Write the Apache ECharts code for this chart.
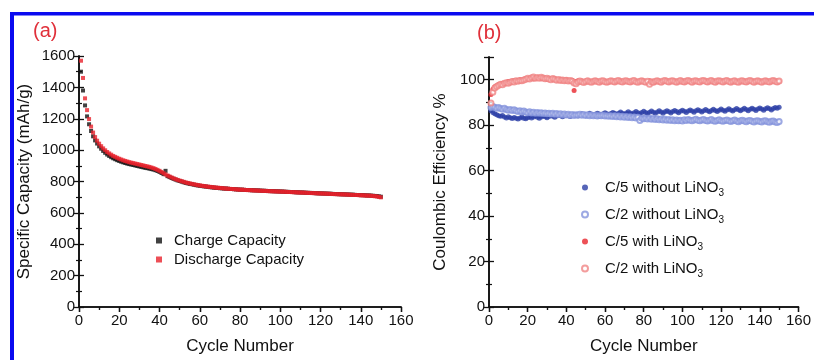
<!DOCTYPE html>
<html>
<head>
<meta charset="utf-8">
<script src="https://cdn.jsdelivr.net/npm/echarts@6/dist/echarts.min.js"></script>
<style>html,body{margin:0;padding:0;background:#fff}#c{width:814px;height:360px}</style>
</head>
<body>
<div id="c"></div>
<script>
// ---------- Panel (a): specific capacity vs cycle ----------
const chargeCapacity = [
1500,1380,1285,1215,1165,1122,1088,1062,1042,1024,
1009,995,983,972,963,955,948,942,936,931,
926,922,918,914,911,908,905,902,899,896,
893,890,887,885,882,879,876,872,867,861,
854,847,868,834,828,822,817,812,807,803,
799,795,791,788,785,783,780,777,775,773,
771,769,768,766,764,763,761,760,759,757,
757,755,755,754,752,752,751,750,749,748,
748,747,746,746,745,744,744,743,743,742,
741,741,740,739,739,738,738,737,737,736,
736,735,734,734,733,733,732,731,731,730,
730,729,728,728,727,727,726,725,725,724,
724,723,723,722,722,721,720,720,719,719,
718,718,717,717,716,716,715,714,714,713,
713,712,711,711,710,709,708,707,705,703];
const dischargeCapacity = [
1570,1460,1330,1255,1198,1150,1112,1083,1060,1041,
1025,1011,999,988,979,971,963,957,951,945,
940,935,931,927,923,920,917,914,911,908,
905,902,899,896,893,889,885,880,874,868,
861,853,845,838,832,826,820,815,810,806,
802,798,794,791,788,785,782,780,777,775,
773,771,769,767,766,764,763,761,760,759,
758,756,755,754,753,752,751,750,749,748,
748,747,746,745,745,744,743,743,742,741,
741,740,740,739,738,738,737,737,736,736,
735,735,734,733,733,732,732,731,730,730,
729,729,728,727,727,726,726,725,724,724,
723,723,722,722,721,720,720,719,719,718,
718,717,717,716,715,715,714,714,713,712,
712,711,710,710,709,708,706,705,702,699];

// ---------- Panel (b): coulombic efficiency vs cycle ----------
const c5Without = [
86.3,85.6,85.0,84.6,84.2,83.9,84.3,83.6,83.2,83.7,
83.3,82.9,83.4,83.0,82.7,83.2,83.6,83.1,82.8,83.3,
83.7,83.2,83.6,84.0,83.5,83.1,83.6,84.1,83.7,83.3,
83.8,84.3,83.9,83.5,84.0,84.5,84.1,83.7,84.2,84.6,
84.2,83.8,84.3,84.8,84.4,84.0,84.5,85.0,84.6,84.2,
84.7,85.2,84.8,84.3,84.8,85.3,84.9,84.4,85.0,85.5,
85.0,84.5,85.1,85.6,85.2,84.7,85.3,85.8,85.3,84.8,
85.4,85.9,85.4,84.9,85.5,86.0,85.5,85.0,85.6,86.1,
85.6,85.1,85.7,86.2,85.7,85.2,85.8,86.3,85.8,85.3,
85.9,86.4,85.9,85.4,86.0,86.5,86.0,85.5,86.1,86.6,
86.1,85.6,86.2,86.7,86.2,85.7,86.3,86.8,86.3,85.8,
86.4,86.9,86.4,85.9,86.5,87.0,86.5,86.0,86.6,87.1,
86.6,86.1,86.7,87.2,86.7,86.2,86.8,87.3,86.8,86.3,
86.9,87.4,86.9,86.4,87.0,87.5,87.0,86.5,87.1,87.6,
87.1,86.6,87.2,87.7,87.2,86.7,87.3,87.8,87.4,87.9];
const c2Without = [
87.8,88.2,87.9,87.5,87.8,87.3,87.0,87.4,86.9,86.6,
86.9,86.5,86.8,86.3,86.0,86.4,85.9,86.2,85.8,85.5,
85.9,85.4,85.7,85.3,85.6,85.2,85.5,85.1,85.4,85.0,
85.3,84.9,85.2,84.8,85.1,84.7,85.0,84.6,84.9,84.5,
84.8,84.4,84.7,84.3,84.6,84.5,84.8,84.4,84.7,84.3,
84.6,84.2,84.5,84.1,84.4,84.0,84.3,84.1,84.4,84.0,
84.2,83.9,84.2,83.8,84.1,83.7,84.0,83.6,83.9,83.5,
83.8,83.4,83.7,83.3,83.6,83.2,83.5,82.1,83.0,82.8,
83.1,82.7,83.0,82.6,82.9,82.5,82.8,82.4,82.7,82.3,
82.6,82.2,82.5,82.1,82.4,82.0,82.3,81.9,82.2,81.8,
82.4,82.1,82.5,82.2,81.9,82.3,82.6,82.2,81.9,82.3,
82.5,82.1,81.8,82.2,82.5,82.0,81.7,82.1,82.4,82.0,
81.7,82.1,82.3,81.9,81.6,82.0,82.3,81.8,81.5,81.9,
82.2,81.8,81.5,81.9,82.1,81.7,81.4,81.8,82.0,81.6,
81.4,81.8,81.9,81.5,81.3,81.7,81.8,81.4,81.2,81.6];
const c5With = [
93.5,95.8,96.9,97.4,97.9,98.1,98.5,98.3,98.9,99.2,
99.0,99.4,99.6,99.3,99.7,100.0,99.8,100.2,100.4,100.1,
100.5,100.8,100.3,100.6,101.0,100.7,100.4,100.8,100.5,100.2,
100.6,100.3,100.0,100.4,100.1,99.8,100.2,99.9,99.6,100.0,
99.7,99.4,99.8,95.3,99.2,99.5,99.1,99.4,99.0,99.3,
99.6,99.2,98.9,99.3,99.6,99.1,98.8,99.2,99.5,99.0,
98.8,99.3,99.6,99.2,98.9,99.4,99.7,99.2,98.9,99.3,
99.6,99.1,98.8,99.3,99.6,99.2,98.9,99.4,99.7,99.1,
98.8,99.2,99.5,99.0,98.7,99.2,99.6,99.1,98.8,99.3,
99.6,99.2,98.9,99.4,99.7,99.2,98.8,99.3,99.6,99.1,
98.9,99.4,99.7,99.2,98.8,99.3,99.6,99.1,98.9,99.4,
99.7,99.2,98.9,99.3,99.6,99.1,98.8,99.3,99.6,99.2,
98.9,99.4,99.7,99.2,98.8,99.3,99.6,99.0,98.8,99.3,
99.6,99.1,98.9,99.4,99.7,99.2,98.9,99.3,99.6,99.1,
98.8,99.3,99.6,99.1,98.9,99.4,99.7,99.2,98.9,99.3];
const c2With = [
89.8,94.5,96.4,97.0,97.6,98.0,97.8,98.4,98.7,98.5,
98.9,99.2,99.0,99.5,99.3,99.7,99.5,99.9,100.2,100.6,
100.3,100.9,101.2,100.7,101.0,100.6,101.1,100.8,100.4,100.7,
100.3,100.0,100.5,100.2,99.8,100.1,99.7,99.9,99.5,99.8,
99.4,99.7,99.3,98.6,98.2,99.0,99.4,99.1,98.8,99.2,
99.5,99.1,98.9,99.3,99.6,99.2,98.9,99.4,99.6,99.1,
98.9,99.2,99.5,99.3,99.0,99.4,99.7,99.2,99.0,99.4,
99.6,99.2,99.0,99.4,99.7,99.1,98.9,99.3,99.6,99.2,
98.9,99.3,98.0,99.1,98.9,99.3,99.6,99.2,98.9,99.4,
99.7,99.3,99.0,99.4,99.6,99.2,98.9,99.3,99.7,99.2,
99.0,99.4,99.7,99.3,98.9,99.4,99.6,99.2,99.0,99.5,
99.7,99.3,99.0,99.4,99.7,99.2,98.9,99.4,99.6,99.3,
99.0,99.4,99.7,99.2,98.9,99.3,99.6,99.1,98.9,99.4,
99.6,99.2,99.0,99.4,99.7,99.3,98.9,99.3,99.6,99.2,
98.9,99.3,99.6,99.2,99.0,99.4,99.7,99.3,99.0,99.4];

const xTicks = {min: 0, max: 160, interval: 20};
const capTicks = {min: 0, max: 1600, interval: 200};
const ceTicks = {min: 0, max: 110, interval: 20};

const pairs = arr => arr.map((v, i) => [i + 1, v]);
const FONT = 'Liberation Sans, Arial, sans-serif';
const TXT = '#111';

function bottomX(grid, name) {
  return {
    type: 'value', gridIndex: grid, position: 'bottom', ...xTicks,
    name: name, nameLocation: 'middle', nameGap: 31,
    nameTextStyle: {fontFamily: FONT, fontSize: 17, color: TXT},
    axisLine: {lineStyle: {color: '#111', width: 1.6}},
    axisTick: {inside: false, length: 5, lineStyle: {color: '#111', width: 1.3}},
    minorTick: {show: true, splitNumber: 2, length: 3, lineStyle: {color: '#111', width: 1.2}},
    axisLabel: {fontFamily: FONT, fontSize: 15, color: TXT, margin: 6},
    splitLine: {show: false}
  };
}
function topX(grid) {
  return {
    type: 'value', gridIndex: grid, position: 'top', ...xTicks,
    axisLine: {lineStyle: {color: '#111', width: 1.6}},
    axisTick: {inside: true, length: 5, lineStyle: {color: '#111', width: 1.3}},
    minorTick: {show: true, splitNumber: 2, length: 3, lineStyle: {color: '#111', width: 1.2}},
    axisLabel: {show: false}, splitLine: {show: false}
  };
}
function leftY(grid, ticks, name, gap) {
  return {
    type: 'value', gridIndex: grid, position: 'left', ...ticks,
    name: name, nameLocation: 'middle', nameGap: gap,
    nameTextStyle: {fontFamily: FONT, fontSize: 17, color: TXT},
    axisLine: {show: true, lineStyle: {color: '#111', width: 1.6}},
    axisTick: {show: true, inside: false, length: 5, lineStyle: {color: '#111', width: 1.3}},
    minorTick: {show: true, splitNumber: 2, length: 3, lineStyle: {color: '#111', width: 1.2}},
    axisLabel: {fontFamily: FONT, fontSize: 15, color: TXT, margin: 4,
      formatter: v => (v % ticks.interval === 0 ? String(v) : '')},
    splitLine: {show: false}
  };
}
function rightY(grid, ticks) {
  return {
    type: 'value', gridIndex: grid, position: 'right', ...ticks,
    axisLine: {show: true, lineStyle: {color: '#111', width: 1.6}},
    axisTick: {show: true, inside: false, length: 5, lineStyle: {color: '#111', width: 1.3}},
    minorTick: {show: true, splitNumber: 2, length: 3, lineStyle: {color: '#111', width: 1.2}},
    axisLabel: {show: false}, splitLine: {show: false}
  };
}

const legendNamesB = ['C/5 without LiNO3', 'C/2 without LiNO3', 'C/5 with LiNO3', 'C/2 with LiNO3'];

const option = {
  animation: false,
  backgroundColor: '#fff',
  grid: [
    {left: 79, top: 56, width: 322, height: 251},
    {left: 489, top: 57, width: 314, height: 250}
  ],
  xAxis: [bottomX(0, 'Cycle Number'), topX(0), bottomX(1, 'Cycle Number'), topX(1)],
  yAxis: [leftY(0, capTicks, 'Specific Capacity (mAh/g)', 46), rightY(0, capTicks),
          leftY(1, ceTicks, 'Coulombic Efficiency %', 40), rightY(1, ceTicks)],
  title: [
    {text: '(a)', left: 28, top: 16, textStyle: {fontFamily: FONT, fontSize: 20, fontWeight: 'normal', color: '#e0303a'}},
    {text: '(b)', left: 472, top: 18, textStyle: {fontFamily: FONT, fontSize: 20, fontWeight: 'normal', color: '#e0303a'}}
  ],
  legend: [
    {
      data: ['Charge Capacity', 'Discharge Capacity'],
      orient: 'vertical', left: 151, top: 228, itemWidth: 6, itemHeight: 6, itemGap: 4,
      textStyle: {fontFamily: FONT, fontSize: 15, color: TXT, padding: [0, 0, 0, 7]}
    },
    {
      data: legendNamesB,
      orient: 'vertical', left: 576, top: 172, itemWidth: 6, itemHeight: 6, itemGap: 6,
      formatter: n => '{t|' + n.slice(0, -1) + '}{s|3}',
      textStyle: {fontFamily: FONT, fontSize: 15, color: TXT, padding: [0, 0, 0, 12],
        rich: {
          t: {fontFamily: FONT, fontSize: 15, color: TXT, lineHeight: 20},
          s: {fontFamily: FONT, fontSize: 10, color: TXT, lineHeight: 20, padding: [11, 0, 0, 0]}
        }}
    }
  ],
  graphic: [
    {type: 'rect', shape: {x: 10, y: 12, width: 804, height: 3.5}, style: {fill: '#0a0af0'}, z: 100},
    {type: 'rect', shape: {x: 10, y: 12, width: 4, height: 348}, style: {fill: '#0a0af0'}, z: 100}
  ],
  series: [
    {name: 'Charge Capacity', type: 'scatter', xAxisIndex: 0, yAxisIndex: 0, data: pairs(chargeCapacity),
      symbol: 'rect', symbolSize: 4, itemStyle: {color: '#111'}},
    {name: 'Discharge Capacity', type: 'scatter', xAxisIndex: 0, yAxisIndex: 0, data: pairs(dischargeCapacity),
      symbol: 'rect', symbolSize: 4, itemStyle: {color: '#e8222c'}},
    {name: 'C/5 without LiNO3', type: 'scatter', xAxisIndex: 2, yAxisIndex: 2, data: pairs(c5Without),
      symbol: 'circle', symbolSize: 5, itemStyle: {color: '#2c3fa6'}},
    {name: 'C/2 without LiNO3', type: 'scatter', xAxisIndex: 2, yAxisIndex: 2, data: pairs(c2Without),
      symbol: 'emptyCircle', symbolSize: 5, itemStyle: {color: '#8494dc', borderColor: '#7586d6', borderWidth: 1}},
    {name: 'C/5 with LiNO3', type: 'scatter', xAxisIndex: 2, yAxisIndex: 2, data: pairs(c5With),
      symbol: 'circle', symbolSize: 5, itemStyle: {color: '#e8252d'}},
    {name: 'C/2 with LiNO3', type: 'scatter', xAxisIndex: 2, yAxisIndex: 2, data: pairs(c2With),
      symbol: 'emptyCircle', symbolSize: 5, itemStyle: {color: '#f08585', borderColor: '#f07a80', borderWidth: 1}}
  ]
};
const chart = echarts.init(document.getElementById('c'), null, {renderer: 'canvas'});
chart.setOption(option);
</script>
</body>
</html>
